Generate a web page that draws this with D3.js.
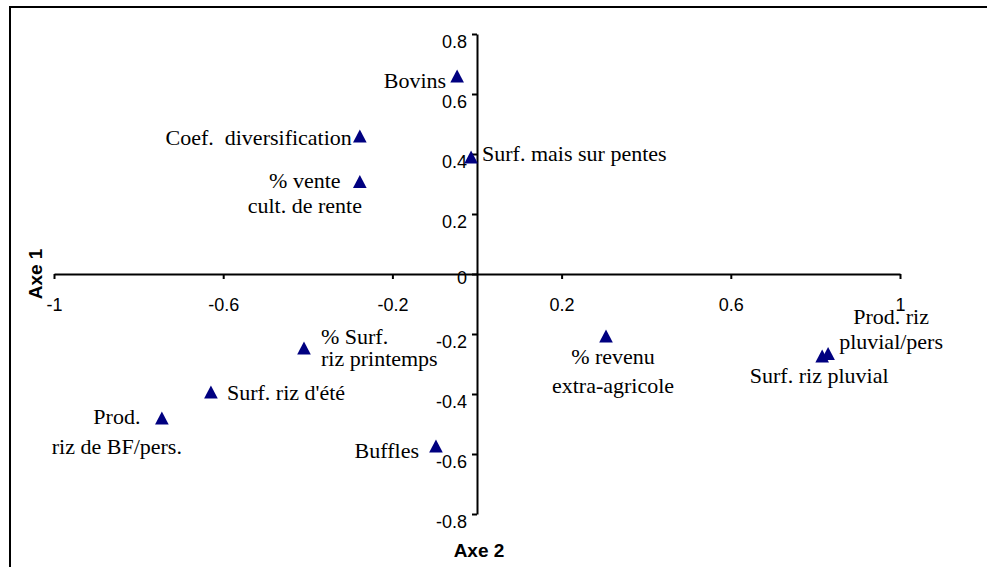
<!DOCTYPE html>
<html>
<head>
<meta charset="utf-8">
<script src="https://cdn.jsdelivr.net/npm/d3@7"></script>
<style>
  html, body { margin: 0; padding: 0; background: #ffffff; }
  svg { display: block; }
</style>
</head>
<body>
<svg id="chart" width="987" height="567"></svg>
<script>
// Variables projected on the first two factorial axes
const variables = [
  "Bovins",
  "Coef. diversification",
  "% vente cult. de rente",
  "Surf. mais sur pentes",
  "% Surf. riz printemps",
  "Surf. riz d'été",
  "Prod. riz de BF/pers.",
  "Buffles",
  "% revenu extra-agricole",
  "Surf. riz pluvial",
  "Prod. riz pluvial/pers"
];
// Coordinates on Axe 2 (horizontal)
const axe2Values = [-0.047, -0.277, -0.277, -0.014, -0.409, -0.629, -0.745, -0.097, 0.305, 0.816, 0.830];
// Coordinates on Axe 1 (vertical)
const axe1Values = [0.660, 0.460, 0.308, 0.390, -0.247, -0.393, -0.480, -0.573, -0.207, -0.273, -0.265];
// Label text, one entry per line
const labelLines = [
  ["Bovins"],
  ["Coef.  diversification"],
  ["% vente", "cult. de rente"],
  ["Surf. mais sur pentes"],
  ["% Surf.", "riz printemps"],
  ["Surf. riz d'été"],
  ["Prod.", "riz de BF/pers."],
  ["Buffles"],
  ["% revenu", "extra-agricole"],
  ["Surf. riz pluvial"],
  ["Prod. riz", "pluvial/pers"]
];
// Tick values
const xTickValues = [-1, -0.6, -0.2, 0.2, 0.6, 1];
const yTickValues = [-0.8, -0.6, -0.4, -0.2, 0, 0.2, 0.4, 0.6, 0.8];

// Label placement relative to each marker: anchor, dx, and a baseline dy per line
const labelPlacement = [
  { anchor: "end",    dx: -11, dy: [12] },
  { anchor: "end",    dx: -8,  dy: [9] },
  { anchor: "middle", dx: -55, dy: [6, 31] },
  { anchor: "start",  dx: 11,  dy: [4] },
  { anchor: "start",  dx: 17,  dy: [-4, 18] },
  { anchor: "start",  dx: 16,  dy: [8] },
  { anchor: "middle", dx: -45, dy: [6, 36] },
  { anchor: "end",    dx: -17, dy: [12] },
  { anchor: "middle", dx: 7,   dy: [28, 57] },
  { anchor: "middle", dx: -3,  dy: [27] },
  { anchor: "middle", dx: 63,  dy: [-30, -5] }
];

const svg = d3.select("#chart");
const sans = "'Liberation Sans', Arial, Helvetica, sans-serif";
const serif = "'Liberation Serif', 'Times New Roman', Times, serif";

// Outer chart frame
svg.append("rect")
  .attr("x", 10).attr("y", 7)
  .attr("width", 990).attr("height", 580)
  .attr("fill", "none")
  .attr("stroke", "#000").attr("stroke-width", 2);

const x = d3.scaleLinear().domain([-1, 1]).range([54, 900]);
const y = d3.scaleLinear().domain([-0.8, 0.8]).range([514, 34]);

const fmt = d => (d === 0 ? "0" : String(+d.toFixed(1)));

// Horizontal axis (Axe 2), crossing at Axe 1 = 0
const gx = svg.append("g")
  .attr("transform", `translate(0,${y(0)})`)
  .call(d3.axisBottom(x).tickValues(xTickValues).tickSizeInner(5).tickSizeOuter(0).tickFormat(fmt));

// Vertical axis (Axe 1), crossing at Axe 2 = 0
const gy = svg.append("g")
  .attr("transform", `translate(${x(0)},0)`)
  .call(d3.axisLeft(y).tickValues(yTickValues).tickSizeInner(5).tickSizeOuter(0).tickFormat(fmt));

[gx, gy].forEach(g => {
  g.attr("font-family", null).attr("font-size", null);
  g.select(".domain").attr("stroke", "#000").attr("stroke-width", 2);
  g.selectAll(".tick line").attr("stroke", "#000").attr("stroke-width", 2);
  g.selectAll(".tick text")
    .attr("fill", "#000")
    .style("font-family", sans)
    .style("font-size", "18px");
});
gx.selectAll(".tick text").attr("y", 24);
gy.selectAll(".tick text").attr("x", -10).attr("y", d => (d === 0 ? 4 : 8));

// Axis titles
svg.append("text")
  .attr("transform", `translate(42,${y(0)}) rotate(-90)`)
  .attr("text-anchor", "middle")
  .style("font-family", sans).style("font-size", "19px").style("font-weight", "bold")
  .text("Axe 1");

svg.append("text")
  .attr("x", x(0) + 2).attr("y", 557)
  .attr("text-anchor", "middle")
  .style("font-family", sans).style("font-size", "19px").style("font-weight", "bold")
  .text("Axe 2");

// Upward triangle marker centred on its bounding box
const triangle = {
  draw(context, size) {
    const w = Math.sqrt(size) * 1.05, h = Math.sqrt(size);
    context.moveTo(0, -h / 2);
    context.lineTo(w / 2, h / 2);
    context.lineTo(-w / 2, h / 2);
    context.closePath();
  }
};

const points = variables.map((name, i) => ({
  name, ax2: axe2Values[i], ax1: axe1Values[i], lines: labelLines[i], place: labelPlacement[i]
}));

// Labels
const labels = svg.append("g").selectAll("text")
  .data(points)
  .join("text")
  .attr("text-anchor", d => d.place.anchor)
  .attr("font-family", serif)
  .attr("font-size", 22)
  .attr("fill", "#000")
  .style("white-space", "pre");

labels.selectAll("tspan")
  .data(d => d.lines.map((line, j) => ({ line, px: x(d.ax2) + d.place.dx, py: y(d.ax1) + d.place.dy[j] })))
  .join("tspan")
  .attr("x", t => t.px)
  .attr("y", t => t.py)
  .text(t => t.line);

// Markers
svg.append("g").selectAll("path")
  .data(points)
  .join("path")
  .attr("transform", d => `translate(${x(d.ax2)},${y(d.ax1)})`)
  .attr("d", d3.symbol().type(triangle).size(169))
  .attr("fill", "#000080");
</script>
</body>
</html>
